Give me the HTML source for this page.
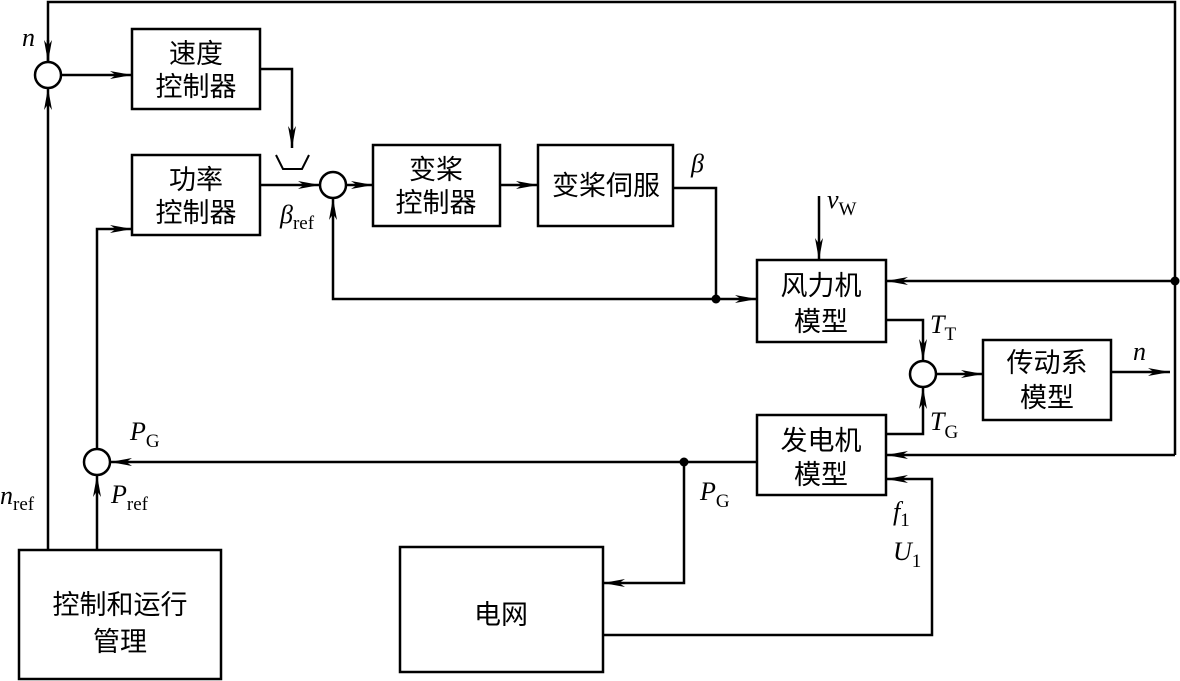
<!DOCTYPE html>
<html><head><meta charset="utf-8"><style>
html,body{margin:0;padding:0;background:#fff;}
svg{display:block;}
text{font-family:"Liberation Serif","Noto Serif CJK SC",serif;fill:#000;}
.cn{font-family:"Liberation Sans","Noto Sans CJK SC",sans-serif;font-size:27px;text-anchor:middle;}
.it{font-style:italic;font-size:26px;}
.sub{font-size:19px;font-style:normal;}
</style></head><body>
<svg width="1180" height="681" viewBox="0 0 1180 681" xmlns="http://www.w3.org/2000/svg">
<defs>
<marker id="a" markerWidth="24" markerHeight="10" refX="22" refY="5" orient="auto" markerUnits="userSpaceOnUse">
<path d="M0,1 L22,5 L0,9 L6,5 Z" fill="#000"/>
</marker>
</defs>
<g fill="none" stroke="#000" stroke-width="2.5">
<!-- boxes -->
<rect x="132" y="29" width="128" height="80"/>
<rect x="132" y="155" width="128" height="80"/>
<rect x="373" y="145" width="127" height="81"/>
<rect x="538" y="145" width="135" height="81"/>
<rect x="757" y="260" width="129" height="82"/>
<rect x="983" y="340" width="128" height="80"/>
<rect x="757" y="415" width="129" height="80"/>
<rect x="400" y="547" width="203" height="125"/>
<rect x="19" y="550" width="202" height="129"/>
<!-- circles -->
<circle cx="48" cy="75" r="13"/>
<circle cx="333" cy="185" r="13"/>
<circle cx="923" cy="374" r="13"/>
<circle cx="97" cy="462" r="13"/>
<!-- top feedback -->
<polyline points="48,62 48,2 1175,2 1175,455"/>
<line x1="48" y1="40" x2="48" y2="62" marker-end="url(#a)"/>
<line x1="61" y1="75" x2="132" y2="75" marker-end="url(#a)"/>
<polyline points="260,69 292,69 292,148" marker-end="url(#a)"/>
<polyline points="276,155 283,169 302,169 309,155" stroke-width="2"/>
<line x1="260" y1="185" x2="320" y2="185" marker-end="url(#a)"/>
<line x1="346" y1="185" x2="373" y2="185" marker-end="url(#a)"/>
<line x1="500" y1="185" x2="538" y2="185" marker-end="url(#a)"/>
<polyline points="673,188 716,188 716,299"/>
<line x1="716" y1="299" x2="757" y2="299" marker-end="url(#a)"/>
<polyline points="716,299 333,299 333,198" marker-end="url(#a)"/>
<line x1="819" y1="196" x2="819" y2="260" marker-end="url(#a)"/>
<line x1="1175" y1="281" x2="886" y2="281" marker-end="url(#a)"/>
<polyline points="886,320 923,320 923,361" marker-end="url(#a)"/>
<line x1="936" y1="374" x2="983" y2="374" marker-end="url(#a)"/>
<line x1="1111" y1="372" x2="1170" y2="372" marker-end="url(#a)"/>
<polyline points="886,434 923,434 923,387" marker-end="url(#a)"/>
<line x1="1175" y1="455" x2="886" y2="455" marker-end="url(#a)"/>
<polyline points="603,635 932,635 932,479 886,479" marker-end="url(#a)"/>
<line x1="757" y1="462" x2="110" y2="462" marker-end="url(#a)"/>
<polyline points="684,462 684,583 603,583" marker-end="url(#a)"/>
<line x1="97" y1="550" x2="97" y2="475" marker-end="url(#a)"/>
<polyline points="97,449 97,229 132,229" marker-end="url(#a)"/>
<line x1="48" y1="550" x2="48" y2="88" marker-end="url(#a)"/>
</g>
<g fill="#000">
<circle cx="716" cy="299" r="4.5"/>
<circle cx="1175" cy="281" r="4.5"/>
<circle cx="684" cy="462" r="4.5"/>
</g>
<!-- box labels -->
<text class="cn" x="196" y="63">速度</text>
<text class="cn" x="196" y="96">控制器</text>
<text class="cn" x="196" y="189">功率</text>
<text class="cn" x="196" y="222">控制器</text>
<text class="cn" x="436" y="179">变桨</text>
<text class="cn" x="436" y="212">控制器</text>
<text class="cn" x="606" y="195">变桨伺服</text>
<text class="cn" x="821" y="295">风力机</text>
<text class="cn" x="821" y="331">模型</text>
<text class="cn" x="1047" y="372">传动系</text>
<text class="cn" x="1047" y="407">模型</text>
<text class="cn" x="821" y="450">发电机</text>
<text class="cn" x="821" y="484">模型</text>
<text class="cn" x="501" y="624">电网</text>
<text class="cn" x="120" y="614">控制和运行</text>
<text class="cn" x="120" y="651">管理</text>
<!-- symbols -->
<text class="it" x="22" y="46">n</text>
<text class="it" x="0" y="504">n<tspan class="sub" dy="6">ref</tspan></text>
<text class="it" x="111" y="503">P<tspan class="sub" dy="7">ref</tspan></text>
<text class="it" x="130" y="440">P<tspan class="sub" dy="7">G</tspan></text>
<text class="it" x="280" y="223">β<tspan class="sub" dy="6">ref</tspan></text>
<text class="it" x="691" y="172">β</text>
<text class="it" x="827" y="208">v<tspan class="sub" dy="7">W</tspan></text>
<text class="it" x="930" y="333">T<tspan class="sub" dy="7">T</tspan></text>
<text class="it" x="930" y="430">T<tspan class="sub" dy="8">G</tspan></text>
<text class="it" x="1133" y="360">n</text>
<text class="it" x="700" y="500">P<tspan class="sub" dy="7">G</tspan></text>
<text class="it" x="893" y="520">f<tspan class="sub" dy="6">1</tspan></text>
<text class="it" x="893" y="560">U<tspan class="sub" dy="7">1</tspan></text>
</svg>
</body></html>
